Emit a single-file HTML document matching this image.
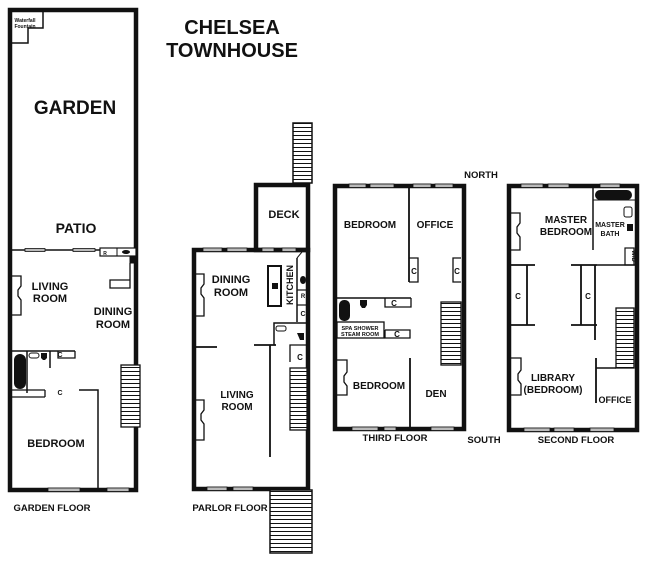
<!DOCTYPE html>
<html><head><meta charset="utf-8"><style>
html,body{margin:0;padding:0;background:#fff;}
svg{display:block;}
text{font-family:"Liberation Sans",Arial,sans-serif;font-weight:bold;fill:#111;text-anchor:middle;}
</style></head><body>
<svg width="648" height="561" viewBox="0 0 648 561" xmlns="http://www.w3.org/2000/svg">
<defs>
<pattern id="st" width="10" height="4" patternUnits="userSpaceOnUse"><rect width="10" height="4" fill="#fff"/><rect y="3" width="10" height="1.2" fill="#111"/></pattern>
</defs>
<text x="232" y="34" font-size="20">CHELSEA</text>
<text x="232" y="57" font-size="20">TOWNHOUSE</text>

<g fill="none" stroke="#111">
<rect x="10" y="10" width="126" height="480" stroke-width="4.5"/>
<path d="M12 43 H28 V28 H43 V12" stroke-width="1.5"/>
<line x1="12" y1="250" x2="100" y2="250" stroke-width="1.5"/>
<rect x="100" y="248" width="36" height="8" stroke-width="1.2" fill="#fff"/>
<line x1="117" y1="248" x2="117" y2="256" stroke-width="1"/>
<path d="M130 257 H137 V263 H130 Z" fill="#111" stroke-width="1"/>
<path d="M130 263 V288 H110 V280 H130" stroke-width="1.3" fill="#fff"/>
<path d="M12 276 H21 V286 L18 290 V296 L21 300 V315 H12" stroke-width="1.3"/>
<line x1="12" y1="351" x2="75" y2="351" stroke-width="1.5"/>
<line x1="27" y1="351" x2="27" y2="393" stroke-width="1.5"/>
<line x1="50" y1="351" x2="50" y2="368" stroke-width="1.5"/>
<path d="M58 351 V358 H75 V351" stroke-width="1.3"/>
<rect x="29" y="353" width="10" height="5" rx="2.5" stroke-width="1"/>
<line x1="12" y1="390" x2="45" y2="390" stroke-width="1.3"/>
<line x1="12" y1="397" x2="45" y2="397" stroke-width="1.3"/>
<line x1="45" y1="390" x2="45" y2="397" stroke-width="1.3"/>
<path d="M79 390 H98 V488" stroke-width="1.5"/>
</g>
<rect x="14" y="354" width="12" height="35" rx="6" fill="#111"/>
<path d="M41 353 h6 v5 l-2 2 h-2 l-2 -2z" fill="#111"/>
<ellipse cx="126" cy="252" rx="4" ry="2" fill="#111"/>
<g fill="#bbb" stroke="#111" stroke-width="0.8">
<rect x="25" y="248.5" width="20" height="3"/><rect x="73" y="248.5" width="22" height="3"/>
<rect x="48" y="488" width="32" height="3.5"/><rect x="107" y="488" width="22" height="3.5"/>
</g>
<rect x="121" y="365" width="19" height="62" fill="url(#st)" stroke="#111" stroke-width="1.3"/>
<text x="75" y="114" font-size="19">GARDEN</text>
<text x="76" y="233" font-size="14">PATIO</text>
<text x="50" y="290" font-size="11">LIVING</text>
<text x="50" y="302" font-size="11">ROOM</text>
<text x="113" y="315" font-size="11">DINING</text>
<text x="113" y="328" font-size="11">ROOM</text>
<text x="56" y="447" font-size="11">BEDROOM</text>
<text x="25" y="22" font-size="5">Waterfall</text>
<text x="25" y="28" font-size="5">Fountain</text>
<text x="60" y="395" font-size="7">C</text>
<text x="60" y="357" font-size="7">C</text>
<text x="105" y="255" font-size="5">R</text>
<text x="52" y="511" font-size="9.5" fill="#333">GARDEN FLOOR</text>

<g fill="none" stroke="#111">
<rect x="194" y="250" width="114" height="239" stroke-width="4.5"/>
<rect x="256" y="185" width="52" height="65" stroke-width="4.5"/>
<rect x="268" y="266" width="13" height="40" stroke-width="2"/>
<line x1="297" y1="258" x2="297" y2="322" stroke-width="1.5"/>
<line x1="297" y1="290" x2="308" y2="290" stroke-width="1.2"/>
<line x1="297" y1="305" x2="308" y2="305" stroke-width="1.2"/>
<path d="M297 258 L302 252" stroke-width="1"/>
<path d="M274 345 V323 H308" stroke-width="1.5"/>
<path d="M290 362 V345 H308" stroke-width="1.3"/>
<line x1="196" y1="347" x2="217" y2="347" stroke-width="1.8"/>
<line x1="254" y1="345" x2="276" y2="345" stroke-width="1.8"/>
<line x1="270" y1="345" x2="270" y2="457" stroke-width="1.8"/>
<path d="M196 274 H204 V284 L201 288 V294 L204 298 V316 H196" stroke-width="1.3"/>
<path d="M196 400 H204 V410 L201 414 V420 L204 424 V440 H196" stroke-width="1.3"/>
<rect x="276" y="326" width="10" height="5" rx="2" stroke-width="1"/>
</g>
<ellipse cx="303" cy="280" rx="3" ry="4" fill="#111"/>
<path d="M297 333 h7 v7 h-4 z" fill="#111"/>
<rect x="272" y="283" width="6" height="6" fill="#111"/>
<g fill="#bbb" stroke="#111" stroke-width="0.8">
<rect x="203" y="248" width="19" height="3.5"/><rect x="227" y="248" width="20" height="3.5"/><rect x="282" y="248" width="14" height="3.5"/>
<rect x="262" y="248" width="12" height="3.5"/>
<rect x="207" y="487" width="20" height="3.5"/><rect x="233" y="487" width="20" height="3.5"/>
</g>
<rect x="293" y="123" width="19" height="60" fill="url(#st)" stroke="#111" stroke-width="1.5"/>
<rect x="290" y="368" width="17" height="62" fill="url(#st)" stroke="#111" stroke-width="1.3"/>
<rect x="270" y="490" width="42" height="63" fill="url(#st)" stroke="#111" stroke-width="1.5"/>
<text x="284" y="218" font-size="11">DECK</text>
<text x="231" y="283" font-size="11">DINING</text>
<text x="231" y="296" font-size="11">ROOM</text>
<text x="237" y="398" font-size="10">LIVING</text>
<text x="237" y="410" font-size="10">ROOM</text>
<text transform="translate(293,285) rotate(-90)" font-size="9">KITCHEN</text>
<text x="303" y="298" font-size="6">R</text>
<text x="303" y="316" font-size="7">C</text>
<text x="300" y="360" font-size="8">C</text>
<text x="230" y="511" font-size="9.5" fill="#333">PARLOR FLOOR</text>

<g fill="none" stroke="#111">
<rect x="335" y="186" width="129" height="243" stroke-width="4.5"/>
<line x1="409" y1="187" x2="409" y2="282" stroke-width="1.8"/>
<path d="M409 258 H418 V282 H409" stroke-width="1.3"/>
<path d="M461 258 H453 V282 H461" stroke-width="1.3"/>
<line x1="337" y1="298" x2="411" y2="298" stroke-width="1.5"/>
<path d="M385 298 V307 H411 V298" stroke-width="1.3"/>
<rect x="337" y="322" width="47" height="16" stroke-width="1.3"/>
<path d="M385 330 V338 H410 V330 H385" stroke-width="1.3"/>
<line x1="410" y1="358" x2="410" y2="430" stroke-width="1.8"/>
<path d="M337 360 H347 V372 L344 376 V382 L347 386 V395 H337" stroke-width="1.3"/>
</g>
<rect x="339" y="300" width="11" height="21" rx="5" fill="#111"/>
<path d="M360 300 h7 v5 l-2 3 h-3 l-2 -3z" fill="#111"/>
<g fill="#bbb" stroke="#111" stroke-width="0.8">
<rect x="349" y="184" width="17" height="3.5"/><rect x="370" y="184" width="24" height="3.5"/>
<rect x="413" y="184" width="18" height="3.5"/><rect x="435" y="184" width="18" height="3.5"/>
<rect x="352" y="427" width="26" height="3.5"/><rect x="384" y="427" width="12" height="3.5"/><rect x="431" y="427" width="23" height="3.5"/>
</g>
<rect x="441" y="302" width="20" height="63" fill="url(#st)" stroke="#111" stroke-width="1.3"/>
<text x="370" y="228" font-size="10">BEDROOM</text>
<text x="435" y="228" font-size="10">OFFICE</text>
<text x="379" y="389" font-size="10">BEDROOM</text>
<text x="436" y="397" font-size="10">DEN</text>
<text x="414" y="274" font-size="8">C</text>
<text x="457" y="274" font-size="8">C</text>
<text x="394" y="306" font-size="8">C</text>
<text x="397" y="337" font-size="8">C</text>
<text x="360" y="330" font-size="5.5">SPA SHOWER</text>
<text x="360" y="336" font-size="5.5">STEAM ROOM</text>
<text x="395" y="441" font-size="9.5" fill="#333">THIRD FLOOR</text>
<text x="481" y="178" font-size="9.5" fill="#333">NORTH</text>
<text x="484" y="443" font-size="9.5" fill="#333">SOUTH</text>

<g fill="none" stroke="#111">
<rect x="509" y="186" width="128" height="244" stroke-width="4.5"/>
<line x1="593" y1="188" x2="593" y2="250" stroke-width="1.5"/>
<line x1="593" y1="200" x2="635" y2="200" stroke-width="1"/>
<line x1="597" y1="265" x2="635" y2="265" stroke-width="1.5"/>
<rect x="625" y="248" width="9" height="17" stroke-width="1.2"/>
<rect x="624" y="207" width="8" height="10" rx="2" stroke-width="1"/>
<line x1="511" y1="265" x2="535" y2="265" stroke-width="1.8"/>
<line x1="527" y1="265" x2="527" y2="325" stroke-width="1.8"/>
<line x1="511" y1="325" x2="535" y2="325" stroke-width="1.8"/>
<line x1="571" y1="265" x2="597" y2="265" stroke-width="1.8"/>
<line x1="581" y1="265" x2="581" y2="325" stroke-width="1.8"/>
<line x1="571" y1="325" x2="597" y2="325" stroke-width="1.8"/>
<line x1="595" y1="265" x2="595" y2="340" stroke-width="1.8"/>
<line x1="596" y1="358" x2="596" y2="403" stroke-width="1.8"/>
<line x1="596" y1="368" x2="616" y2="368" stroke-width="1.5"/>
<path d="M511 213 H520 V223 L517 227 V233 L520 237 V250 H511" stroke-width="1.3"/>
<path d="M511 358 H521 V370 L518 374 V380 L521 384 V395 H511" stroke-width="1.3"/>
</g>
<rect x="595" y="190" width="37" height="10" rx="5" fill="#111"/>
<path d="M627 224 h6 v7 h-6 z" fill="#111"/>
<g fill="#bbb" stroke="#111" stroke-width="0.8">
<rect x="521" y="184" width="22" height="3.5"/><rect x="548" y="184" width="21" height="3.5"/><rect x="600" y="184" width="20" height="3.5"/>
<rect x="524" y="428" width="26" height="3.5"/><rect x="554" y="428" width="20" height="3.5"/><rect x="590" y="428" width="24" height="3.5"/>
</g>
<rect x="616" y="308" width="18" height="60" fill="url(#st)" stroke="#111" stroke-width="1.3"/>
<text x="566" y="223" font-size="10">MASTER</text>
<text x="566" y="235" font-size="10">BEDROOM</text>
<text x="610" y="227" font-size="7">MASTER</text>
<text x="610" y="236" font-size="7">BATH</text>
<text transform="translate(632,256) rotate(90)" font-size="6">W/D</text>
<text x="518" y="299" font-size="8">C</text>
<text x="588" y="299" font-size="8">C</text>
<text x="553" y="381" font-size="10">LIBRARY</text>
<text x="553" y="393" font-size="10">(BEDROOM)</text>
<text x="615" y="403" font-size="9">OFFICE</text>
<text x="576" y="443" font-size="9.5" fill="#333">SECOND FLOOR</text>
</svg>
</body></html>
